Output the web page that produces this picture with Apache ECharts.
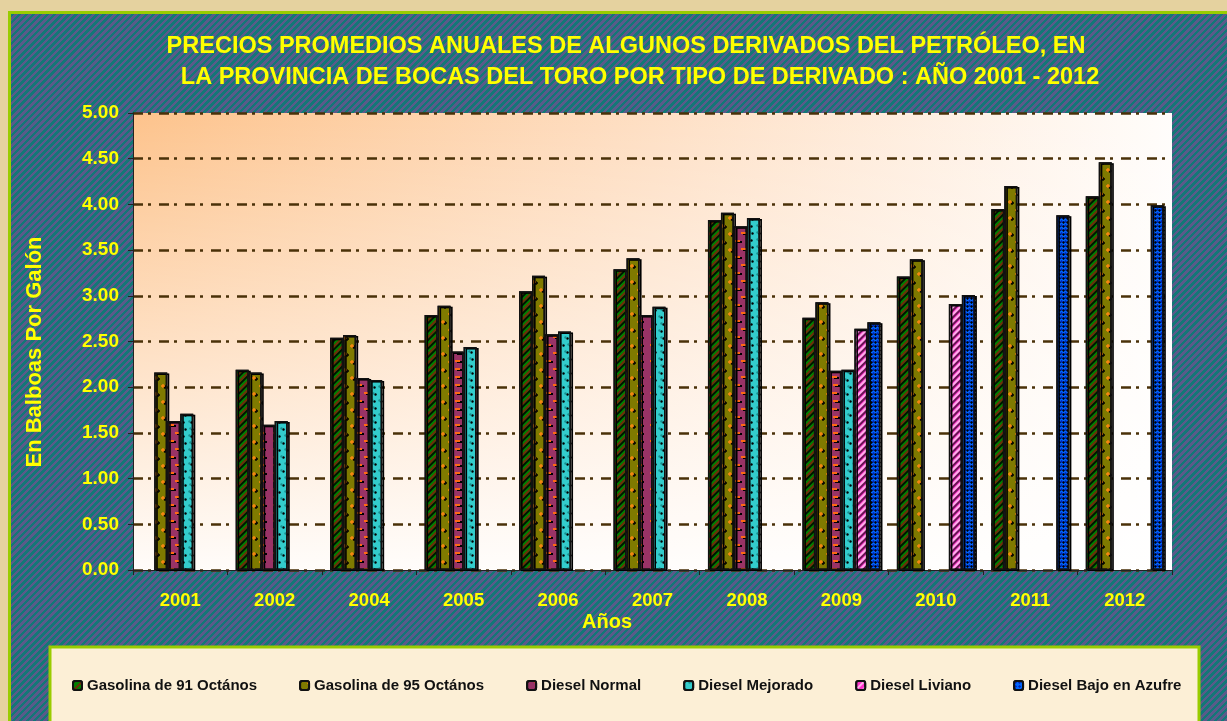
<!DOCTYPE html>
<html>
<head>
<meta charset="utf-8">
<title>Precios promedios anuales - Bocas del Toro</title>
<script src="https://cdn.jsdelivr.net/npm/echarts@6/dist/echarts.min.js"></script>
<style>
  html, body { margin: 0; padding: 0; }
  #frame {
    position: relative; width: 1227px; height: 721px; overflow: hidden;
    background: #e5d29f;
  }
  #panel {
    position: absolute; left: 8px; top: 11px; right: -10px; bottom: -10px;
    border-left: 3px solid #99cc00; border-top: 3px solid #99cc00;
    background: repeating-linear-gradient(135deg, #137777 0px, #137777 2.5px, #5a5a8a 2.5px, #5a5a8a 5px);
  }
  #chart { position: absolute; left: 0; top: 0; width: 1227px; height: 721px; }
</style>
</head>
<body>
<div id="frame">
  <div id="panel"></div>
  <div id="chart"></div>
</div>
<script>
// datos (B/. por galon)
const years = ['2001', '2002', '2004', '2005', '2006', '2007', '2008', '2009', '2010', '2011', '2012'];
const gas91 = ['-', 2.19, 2.54, 2.79, 3.05, 3.29, 3.83, 2.76, 3.21, 3.95, 4.09];
const gas95 = [2.16, 2.16, 2.57, 2.89, 3.22, 3.41, 3.91, 2.93, 3.40, 4.20, 4.46];
const dieselNormal = [1.63, 1.59, 2.10, 2.39, 2.58, 2.79, 3.76, 2.18, '-', '-', '-'];
const dieselMejorado = [1.71, 1.63, 2.08, 2.44, 2.61, 2.88, 3.85, 2.19, '-', '-', '-'];
const dieselLiviano = ['-', '-', '-', '-', '-', '-', '-', 2.64, 2.91, '-', '-'];
const dieselAzufre = ['-', '-', '-', '-', '-', '-', '-', 2.71, 3.01, 3.88, 3.99];
const seriesNames = ['Gasolina de 91 Octános', 'Gasolina de 95 Octános', 'Diesel Normal', 'Diesel Mejorado', 'Diesel Liviano', 'Diesel Bajo en Azufre'];
const yTicks = { min: 0, max: 5, interval: 0.5 };

const FONT = "'Liberation Sans', Arial, sans-serif";
const YELLOW = '#ffff00';
const plus = 'path://M1,0H2V1H3V2H2V3H1V2H0V1H1Z';
// area de trazado
const G = { left: 133, top: 113, width: 1039, height: 457 };

var chart = echarts.init(document.getElementById('chart'), null, { renderer: 'canvas' });

function barSeries(name, data, color, decal) {
  return {
    name: name,
    type: 'bar',
    data: data,
    barWidth: 13,
    barGap: '0%',
    z: 3,
    itemStyle: {
      color: color,
      borderColor: '#111',
      borderWidth: 1.5,
      shadowColor: 'rgba(0,0,0,0.3)',
      shadowOffsetX: 2,
      shadowOffsetY: 1,
      decal: decal
    }
  };
}

var series = [
  barSeries(seriesNames[0], gas91, '#008000', {
    symbol: 'rect', symbolSize: 1, color: 'rgba(130,30,10,0.85)',
    dashArrayX: [1, 0], dashArrayY: [2, 4], rotation: -Math.PI / 4
  }),
  barSeries(seriesNames[1], gas95, '#7f7a00', {
    symbol: plus, symbolSize: 1, color: '#ff8a10',
    dashArrayX: [[4, 10], [0, 7, 4, 3]], dashArrayY: [4, 4]
  }),
  barSeries(seriesNames[2], dieselNormal, '#993366', {
    symbol: 'rect', symbolSize: 1, color: '#ff6a13',
    dashArrayX: [[5, 8], [0, 6.5, 5, 1.5]], dashArrayY: [2, 6]
  }),
  barSeries(seriesNames[3], dieselMejorado, '#33cccc', {
    symbol: 'circle', symbolSize: 0.8, color: '#1a8f8f',
    dashArrayX: [[3, 4], [0, 3.5, 3, 0.5]], dashArrayY: [3, 4]
  }),
  barSeries(seriesNames[4], dieselLiviano, '#ff33cc', {
    symbol: 'rect', symbolSize: 1, color: 'rgba(255,255,255,0.6)',
    dashArrayX: [1, 0], dashArrayY: [2, 3], rotation: -Math.PI / 4
  }),
  barSeries(seriesNames[5], dieselAzufre, '#0066ff', {
    symbol: 'diamond', symbolSize: 1, color: '#0026b0',
    dashArrayX: [3, 1], dashArrayY: [3, 1]
  })
];

chart.setOption({
  backgroundColor: 'transparent',
  textStyle: { fontFamily: FONT },
  grid: {
    left: G.left, top: G.top, width: G.width, height: G.height,
    show: true,
    borderWidth: 0,
    // degradado "desde la esquina": horizontal aqui, vertical en el graphic de abajo
    backgroundColor: new echarts.graphic.LinearGradient(0, 0, 1, 0, [
      { offset: 0, color: '#fdc38c' },
      { offset: 0.5, color: '#fedfc4' },
      { offset: 1, color: '#fffdfb' }
    ])
  },
  graphic: [
    {
      type: 'rect', z: 1, silent: true,
      shape: { x: G.left, y: G.top, width: G.width, height: G.height },
      style: {
        fill: new echarts.graphic.LinearGradient(0, 0, 0, 1, [
          { offset: 0, color: 'rgba(255,255,255,0)' },
          { offset: 1, color: 'rgba(255,255,255,0.95)' }
        ])
      }
    },
    {
      type: 'text', x: 626, y: 47,
      style: {
        text: 'PRECIOS PROMEDIOS ANUALES DE ALGUNOS DERIVADOS DEL PETRÓLEO, EN',
        fill: YELLOW, font: 'bold 23.5px ' + FONT, textAlign: 'center', textVerticalAlign: 'middle'
      }
    },
    {
      type: 'text', x: 640, y: 78,
      style: {
        text: 'LA PROVINCIA DE BOCAS DEL TORO POR TIPO DE DERIVADO : AÑO 2001 - 2012',
        fill: YELLOW, font: 'bold 23.5px ' + FONT, textAlign: 'center', textVerticalAlign: 'middle'
      }
    },
    {
      type: 'text', x: 35, y: 352, rotation: Math.PI / 2,
      style: {
        text: 'En Balboas Por Galón',
        fill: YELLOW, font: 'bold 22px ' + FONT, textAlign: 'center', textVerticalAlign: 'middle'
      }
    },
    {
      type: 'text', x: 607, y: 622,
      style: {
        text: 'Años',
        fill: YELLOW, font: 'bold 20px ' + FONT, textAlign: 'center', textVerticalAlign: 'middle'
      }
    },
    {
      // caja de la leyenda
      type: 'rect', z: 1,
      shape: { x: 50, y: 647, width: 1149, height: 80 },
      style: { fill: '#fcefd6', stroke: '#99cc00', lineWidth: 3 }
    }
  ],
  legend: {
    data: seriesNames,
    left: 67,
    top: 673,
    itemWidth: 9,
    itemHeight: 9,
    itemGap: 42,
    z: 10,
    textStyle: { color: '#111', fontWeight: 'bold', fontSize: 15, fontFamily: FONT }
  },
  xAxis: {
    type: 'category',
    data: years,
    z: 2,
    axisLine: { lineStyle: { color: '#222', width: 1 } },
    axisTick: { show: true, length: 5, lineStyle: { color: '#222' } },
    axisLabel: { color: YELLOW, fontWeight: 'bold', fontSize: 18.5, margin: 21 }
  },
  yAxis: {
    type: 'value',
    min: yTicks.min,
    max: yTicks.max,
    interval: yTicks.interval,
    z: 2,
    axisLine: { show: true, lineStyle: { color: '#222', width: 1 } },
    axisTick: { show: true, length: 5, lineStyle: { color: '#222' } },
    axisLabel: {
      color: YELLOW, fontWeight: 'bold', fontSize: 19, margin: 14,
      formatter: function (v) { return v.toFixed(2); }
    },
    splitLine: {
      lineStyle: { color: '#4a3108', width: 2.5, type: [10, 5, 3, 8] }
    }
  },
  series: series
});
</script>
</body>
</html>
